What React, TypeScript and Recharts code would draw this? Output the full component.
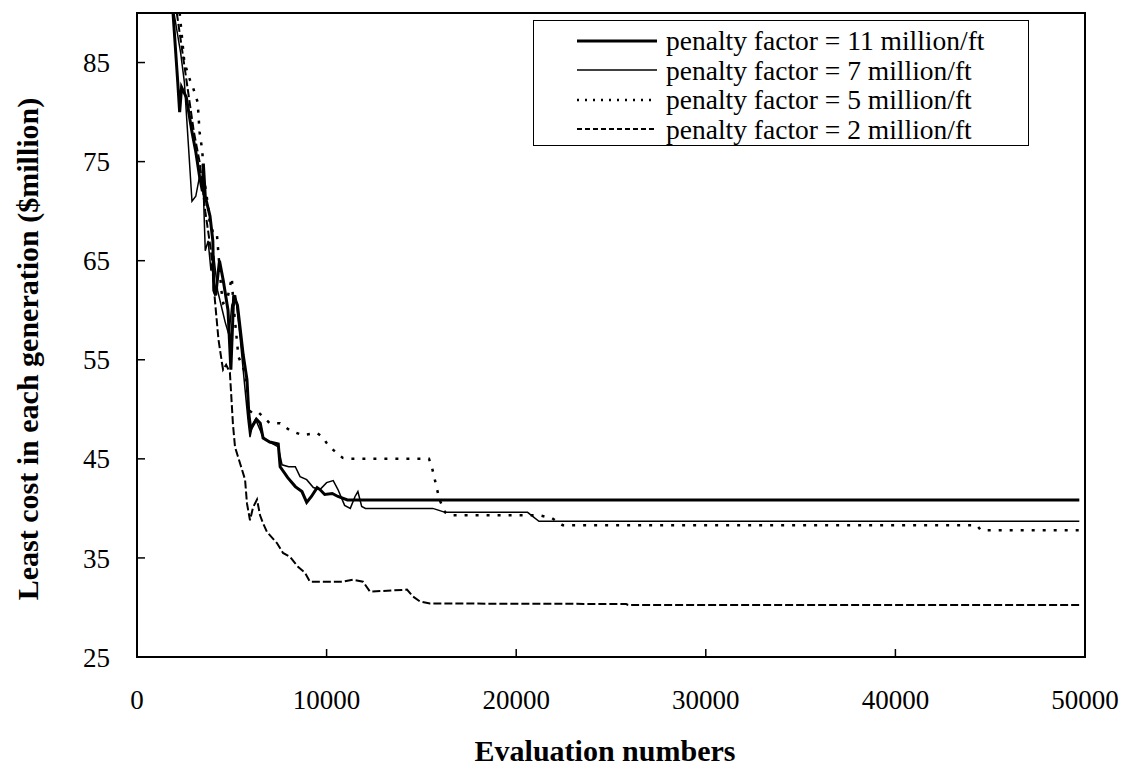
import { LineChart, Line, XAxis, YAxis, Legend, ReferenceArea, Label } from "recharts";

const FONT = "'Liberation Serif', 'Times New Roman', serif";

const xTicks = [0, 10000, 20000, 30000, 40000, 50000];
const yTicks = [25, 35, 45, 55, 65, 75, 85];

// penalty factor = 11 million/ft
const evals11 = [1900, 2150, 2250, 2350, 2600, 2900, 3100, 3300, 3450, 3500, 3600, 3850, 4000, 4050, 4150, 4350, 4550, 4800, 4950, 5100, 5300, 5450, 5600, 5800, 5900, 6000, 6300, 6500, 6650, 7000, 7450, 7550, 7950, 8350, 8700, 8950, 9200, 9500, 9650, 9900, 10300, 10600, 11100, 49700];
const cost11 = [90, 83, 80, 82.5, 81.5, 78, 76, 73.5, 72, 74.8, 71.5, 69.5, 67, 62, 61.5, 65, 63, 60, 54, 61.5, 60.5, 58, 55.5, 53, 49.5, 48, 49, 48.6, 47.1, 46.7, 46.5, 44.2, 43.1, 42.2, 41.7, 40.6, 41.2, 42.1, 41.9, 41.4, 41.5, 41.2, 40.85, 40.85];

// penalty factor = 7 million/ft
const evals7 = [1950, 2300, 2500, 2700, 2900, 3100, 3300, 3500, 3600, 3750, 3900, 4050, 4250, 4500, 4650, 4850, 5000, 5200, 5450, 5650, 5850, 5960, 6100, 6250, 6650, 7000, 7450, 7650, 8000, 8350, 8600, 8950, 9300, 9650, 10000, 10350, 10600, 10950, 11250, 11500, 11650, 11850, 12050, 15600, 16250, 20600, 21200, 49700];
const cost7 = [90, 86, 83, 77, 71, 71.5, 73.5, 72, 66, 67, 64, 65.5, 62, 60, 58.8, 57.5, 60.5, 61.5, 57, 53, 49, 47.2, 48.5, 49, 47.2, 46.7, 46.2, 44.4, 44.2, 44.2, 43.2, 42.9, 42.1, 41.9, 42.6, 42.8, 41.9, 40.3, 40.0, 41.2, 41.7, 40.2, 40.0, 40.0, 39.6, 39.6, 38.7, 38.7];

// penalty factor = 5 million/ft
const evals5 = [2250, 2350, 2500, 2800, 2950, 3200, 3300, 3450, 3500, 3600, 3750, 3850, 4000, 4200, 4450, 4550, 4750, 5000, 5060, 5150, 5350, 5700, 5800, 5870, 6100, 6400, 7000, 7550, 8050, 8700, 9500, 9800, 10000, 10350, 10850, 11200, 15400, 15550, 15950, 16250, 16500, 21250, 21900, 22450, 44300, 44500, 49700];
const cost5 = [90, 88, 85, 83.2, 82.5, 81, 78, 76, 73, 72.5, 70.5, 68.5, 68, 68, 62, 60.7, 61, 63.3, 61.3, 59.3, 55.3, 53.7, 52, 50, 49.6, 49.7, 48.6, 48.6, 47.9, 47.4, 47.6, 47.2, 46.6, 45.9, 45.1, 45, 45, 44.2, 40.9, 39.6, 39.3, 39.3, 39, 38.3, 38.3, 37.8, 37.8];

// penalty factor = 2 million/ft
const evals2 = [2100, 2400, 2700, 3000, 3300, 3600, 3900, 4110, 4300, 4480, 4540, 4700, 4900, 5060, 5170, 5330, 5540, 5700, 5800, 5960, 6120, 6330, 6490, 6650, 6860, 7380, 7700, 8070, 8490, 8860, 9120, 10860, 11390, 11920, 12290, 14240, 14560, 14930, 15450, 25800, 25900, 49700];
const cost2 = [90, 86, 82, 78, 75, 70, 66, 61, 57, 54.7, 54, 54.5, 53.7, 48.5, 46.2, 45.2, 43.9, 42.9, 40.5, 38.8, 40.1, 40.9, 39.3, 38.5, 37.6, 36.5, 35.5, 35.1, 34.1, 33.5, 32.6, 32.6, 32.8, 32.6, 31.6, 31.8, 31.1, 30.6, 30.4, 30.35, 30.25, 30.25];

const zip = (evals: number[], costs: number[]) => evals.map((e, i) => ({ e, v: costs[i] }));

const series = [
  { key: "p11", name: "penalty factor = 11 million/ft", data: zip(evals11, cost11), width: 3, dash: undefined, legendDash: undefined },
  { key: "p7", name: "penalty factor = 7 million/ft", data: zip(evals7, cost7), width: 1.5, dash: undefined, legendDash: undefined },
  { key: "p5", name: "penalty factor = 5 million/ft", data: zip(evals5, cost5), width: 2.5, dash: "3 8", legendDash: "2 6" },
  { key: "p2", name: "penalty factor = 2 million/ft", data: zip(evals2, cost2), width: 2, dash: "8 3", legendDash: "5 3" },
];

const YTick = (props: any) => {
  const { x, y, payload } = props;
  const ax = x + 27;
  return (
    <g>
      <line x1={ax} x2={ax + 8} y1={y} y2={y} stroke="#000" strokeWidth={1.5} />
      <text x={x} y={y} dy="0.355em" textAnchor="end" fontSize={27} fontFamily={FONT} fill="#000">
        {payload.value}
      </text>
    </g>
  );
};

const XTick = (props: any) => {
  const { x, y, payload } = props;
  const ay = y - 33;
  return (
    <g>
      <line x1={x} x2={x} y1={ay} y2={ay - 8} stroke="#000" strokeWidth={1.5} />
      <text x={x} y={y} dy="0.71em" textAnchor="middle" fontSize={27} fontFamily={FONT} fill="#000">
        {payload.value}
      </text>
    </g>
  );
};

const LegendBox = () => (
  <div
    style={{
      boxSizing: "border-box",
      width: 496,
      height: 126,
      border: "1.5px solid #000",
      background: "#fff",
      paddingTop: 5,
      fontFamily: FONT,
      fontSize: 27.5,
      color: "#000",
    }}
  >
    {series.map((s) => (
      <div key={s.key} style={{ display: "flex", alignItems: "center", height: 29.5 }}>
        <svg width={80} height={10} style={{ marginLeft: 43, marginRight: 9 }}>
          <line x1={0} x2={80} y1={5} y2={5} stroke="#000" strokeWidth={s.width} strokeDasharray={s.legendDash} />
        </svg>
        <span style={{ lineHeight: "29.5px", whiteSpace: "nowrap" }}>{s.name}</span>
      </div>
    ))}
  </div>
);

export default function App() {
  const drawOrder = [...series].reverse();
  return (
    <div style={{ margin: -8 }}>
      <LineChart width={1131} height={770} margin={{ top: 13, right: 46, left: 0, bottom: 0 }}>
        <XAxis
          dataKey="e"
          type="number"
          domain={[0, 50000]}
          ticks={xTicks}
          height={113}
          axisLine={{ stroke: "#000", strokeWidth: 2 }}
          tickLine={false}
          tickSize={0}
          tickMargin={33}
          tick={<XTick />}
          interval={0}
          label={
            <Label
              content={() => (
                <text x={605} y={761} textAnchor="middle" fontSize={30} fontWeight="bold" fontFamily={FONT} fill="#000">
                  Evaluation numbers
                </text>
              )}
            />
          }
        />
        <YAxis
          type="number"
          domain={[25, 90]}
          allowDataOverflow
          ticks={yTicks}
          width={137}
          axisLine={{ stroke: "#000", strokeWidth: 2 }}
          tickLine={false}
          tickSize={0}
          tickMargin={27}
          tick={<YTick />}
          interval={0}
          label={
            <Label
              content={() => (
                <text
                  x={27}
                  y={349}
                  transform="rotate(-90 27 349)"
                  textAnchor="middle"
                  dominantBaseline="central"
                  fontSize={30}
                  fontWeight="bold"
                  fontFamily={FONT}
                  fill="#000"
                >
                  Least cost in each generation ($million)
                </text>
              )}
            />
          }
        />
        <ReferenceArea x1={0} x2={50000} y1={25} y2={90} fill="none" stroke="#000" strokeWidth={2} ifOverflow="visible" />
        {drawOrder.map((s) => (
          <Line
            key={s.key}
            data={s.data}
            dataKey="v"
            name={s.name}
            type="linear"
            stroke="#000"
            strokeWidth={s.width}
            strokeDasharray={s.dash}
            dot={false}
            activeDot={false}
            isAnimationActive={false}
          />
        ))}
        <Legend
          layout="vertical"
          align="center"
          verticalAlign="middle"
          wrapperStyle={{ left: 533, top: 20, width: 496, height: 126 }}
          content={() => <LegendBox />}
        />
      </LineChart>
    </div>
  );
}
